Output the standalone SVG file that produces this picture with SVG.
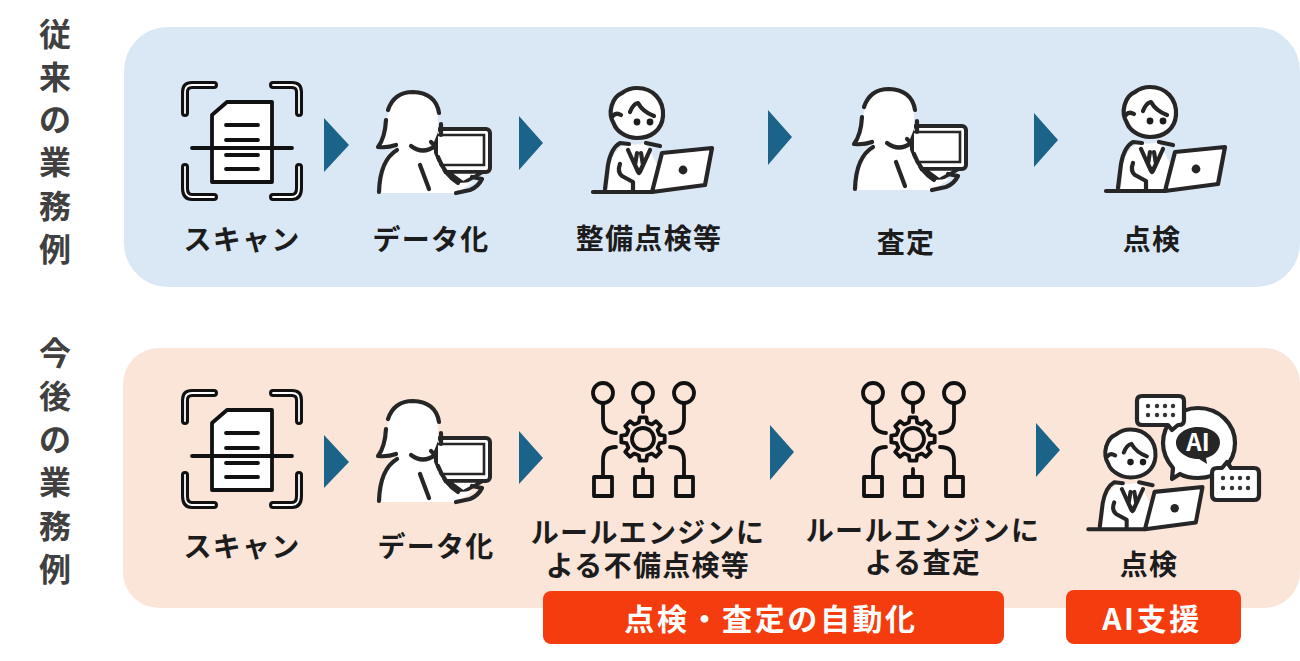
<svg xmlns="http://www.w3.org/2000/svg" width="1300" height="661" viewBox="0 0 1300 661">
<style>
text{font-family:"Noto Sans CJK JP","Noto Sans",sans-serif;font-weight:700;text-anchor:middle}
.lb{font-size:28px;letter-spacing:1.3px;fill:#1c1c1c}
.side{font-size:32px;fill:#404040}
.tag{font-size:30px;letter-spacing:2.6px;fill:#fff}
.ln{fill:none;stroke:#262626;stroke-width:4.2;stroke-linecap:round;stroke-linejoin:round}
.wh{fill:#fff;stroke:#262626;stroke-width:4.2;stroke-linecap:round;stroke-linejoin:round}
.gr{fill:none;stroke:#111;stroke-width:3.8;stroke-linecap:round;stroke-linejoin:round}
.br{fill:none;stroke:#111;stroke-width:8;stroke-linecap:round;stroke-linejoin:round}
.bi{fill:none;stroke:#fff;stroke-width:1.8;stroke-linecap:round;stroke-linejoin:round}
.arr{fill:#1b6388}
.dt{fill:#333}
</style>
<defs>
<g id="scan">
<path class="br" d="M185,113V92Q185,85 192,85H214M273,85H292Q299,85 299,92V113M185,167V188Q185,197 192,197H214M273,197H292Q299,197 299,188V167"/>
<path class="bi" d="M185,113V92Q185,85 192,85H214M273,85H292Q299,85 299,92V113M185,167V188Q185,197 192,197H214M273,197H292Q299,197 299,188V167"/>
<path d="M212,115L227,102H272V182H212Z" fill="#fff" stroke="#111" stroke-width="3.8" stroke-linejoin="round"/>
<path d="M226,125H258M226,140H258M192,148H292M226,155H258M226,169H258" fill="none" stroke="#111" stroke-width="3.8" stroke-linecap="round"/>
</g>
<g id="woman">
<rect x="436" y="129" width="54" height="43" rx="4" fill="#fff" stroke="#262626" stroke-width="4"/>
<path d="M437,135H484V165H437" fill="none" stroke="#262626" stroke-width="2.6"/>
<path d="M448,172L463,183L483,172Z" fill="#fff" stroke="#262626" stroke-width="3.6" stroke-linejoin="round"/>
<path d="M378,193L383,163Q387,152 397,147L378,147Q384,140 387,120Q391,93 413,92Q437,93 438,120V132L432,147Q436,160 445,175L458,183L474,182L456,193Z" fill="#fff"/>
<path class="ln" d="M388,110Q394,92 413,92Q436,93 439,113M386,120Q385,138 378,147Q388,148 396,145M379,192Q380,160 397,150M411,146Q423,155 435,146L431,142M441,124V135M420,165L429,189M438,157Q445,175 458,183M456,193L470,190Q478,187 482,179L472,177"/>
</g>
<g id="man">
<path d="M593,192H660V170L646,143Q637,146 627,144Q614,148 610,165L608,190Z" fill="#fff"/>
<path class="wh" d="M637,88C653,88 664,100 663,116C662,130 651,138 637,138C625,138 616,130 614,124C607,113 612,97 622,93C626,90 631,88 637,88Z"/>
<path class="ln" d="M593,192H652M605,189L608,165Q611,148 620,143L629,144M646,143L660,146M628,150L638,172M650,150L640,172M637,153L635,165L639,173L643,165L641,153M620,164Q617,172 622,176L633,182V190M613,116Q616,112 621,115M630,112Q633,104 638,103Q643,112 654,116"/>
<circle cx="637" cy="122" r="3.4" fill="#1c1c1c"/><circle cx="650" cy="122" r="3.4" fill="#1c1c1c"/>
<path class="wh" d="M662,153L712,148L705,185L652,192Z"/>
<circle cx="683" cy="170" r="4.4" fill="#262626"/>
</g>
<g id="rule">
<circle cx="603" cy="393" r="10" class="gr"/><circle cx="643" cy="393" r="10" class="gr"/><circle cx="684" cy="393" r="10" class="gr"/>
<rect x="594" y="477" width="18" height="19" class="gr"/><rect x="635" y="477" width="17" height="19" class="gr"/><rect x="676" y="477" width="17" height="19" class="gr"/>
<path class="gr" d="M603,404V420Q603,432 616,433M643,404V412M684,404V420Q684,432 670,433M616,447Q603,447 603,460V477M643,469V477M670,447Q684,447 684,460V477"/>
<path class="gr" transform="translate(643,439)" d="M16.5,-4.1L21.7,-3.4V3.4L16.5,4.1L14.6,8.8L17.8,12.9L12.9,17.8L8.8,14.6L4.1,16.5L3.4,21.7H-3.4L-4.1,16.5L-8.8,14.6L-12.9,17.8L-17.8,12.9L-14.6,8.8L-16.5,4.1L-21.7,3.4V-3.4L-16.5,-4.1L-14.6,-8.8L-17.8,-12.9L-12.9,-17.8L-8.8,-14.6L-4.1,-16.5L-3.4,-21.7H3.4L4.1,-16.5L8.8,-14.6L12.9,-17.8L17.8,-12.9L14.6,-8.8Z"/>
<circle cx="643" cy="439" r="11" class="gr"/>
</g>
</defs>

<rect id="panel-before" x="124" y="27" width="1176" height="260" rx="44" fill="#dae8f6"/>
<rect id="panel-after" x="123" y="348" width="1177" height="260" rx="36" fill="#fbe5d9"/>

<text id="label-before" class="side" x="55 55 55 55 55 55" y="46 89 131 174 218 261">従来の業務例</text>
<text id="label-after" class="side" x="55 55 55 55 55 55" y="365 408 451 494 538 581">今後の業務例</text>

<g id="connectors">
<polygon class="arr" points="324,118 349,145 324,172"/>
<polygon class="arr" points="519,116 543,143 519,170"/>
<polygon class="arr" points="768,110 792,137 768,165"/>
<polygon class="arr" points="1034,113 1058,140 1034,167"/>
<polygon class="arr" points="324,435 349,462 324,488"/>
<polygon class="arr" points="519,431 543,458 519,484"/>
<polygon class="arr" points="770,425 794,452 770,480"/>
<polygon class="arr" points="1036,423 1060,450 1036,477"/>
</g>

<g id="n1"><use href="#scan"/><text class="lb" x="242" y="250">スキャン</text></g>
<g id="n2"><use href="#woman"/><text class="lb" x="431" y="250">データ化</text></g>
<g id="n3"><use href="#man"/><text class="lb" x="649" y="249">整備点検等</text></g>
<g id="n4"><use href="#woman" x="476" y="-3"/><text class="lb" x="906" y="253">査定</text></g>
<g id="n5"><use href="#man" x="513" y="-1"/><text class="lb" x="1152" y="250">点検</text></g>

<g id="n6"><use href="#scan" y="308"/><text class="lb" x="242" y="557">スキャン</text></g>
<g id="n7"><use href="#woman" y="309"/><text class="lb" x="436" y="557">データ化</text></g>
<g id="n8"><use href="#rule"/><text class="lb" x="648" y="543">ルールエンジンに</text><text class="lb" x="648" y="576">よる不備点検等</text></g>
<g id="n9"><use href="#rule" x="270"/><text class="lb" x="923" y="541">ルールエンジンに</text><text class="lb" x="923" y="573">よる査定</text></g>
<g id="n10">
<use href="#man" transform="translate(519,345) scale(.96)"/>
<path class="wh" d="M1198,408C1219,408 1235,424 1235,443C1235,463 1219,478 1198,478C1191,478 1185,477 1180,474L1172,479L1173,468C1167,461 1163,452 1163,443C1163,424 1178,408 1198,408Z"/>
<path d="M1198,427C1211,427 1220,434 1220,442C1220,450 1214,456 1206,458L1207,464L1199,459C1186,459 1176,451 1176,443C1176,434 1186,427 1198,427Z" fill="#262626"/>
<text x="1198" y="451" font-size="24" fill="#fff">AI</text>
<path class="wh" d="M1142,396H1179Q1184,396 1184,401V420Q1184,425 1179,425H1178L1172,430L1168,425H1142Q1137,425 1137,420V401Q1137,396 1142,396Z"/>
<path class="wh" d="M1217,468H1222L1227,462L1231,468H1254Q1259,468 1259,473V495Q1259,500 1254,500H1217Q1212,500 1212,495V473Q1212,468 1217,468Z"/>
<g class="dt"><circle cx="1148" cy="406" r="2.2"/><circle cx="1157" cy="406" r="2.2"/><circle cx="1165" cy="406" r="2.2"/><circle cx="1173" cy="406" r="2.2"/><circle cx="1148" cy="415" r="2.2"/><circle cx="1157" cy="415" r="2.2"/><circle cx="1165" cy="415" r="2.2"/><circle cx="1173" cy="415" r="2.2"/><circle cx="1223" cy="478" r="2.2"/><circle cx="1232" cy="478" r="2.2"/><circle cx="1240" cy="478" r="2.2"/><circle cx="1248" cy="478" r="2.2"/><circle cx="1223" cy="488" r="2.2"/><circle cx="1232" cy="488" r="2.2"/><circle cx="1240" cy="488" r="2.2"/><circle cx="1248" cy="488" r="2.2"/></g>
<text class="lb" x="1149" y="575">点検</text>
</g>

<g id="tag-auto"><rect x="543" y="591" width="461" height="53" rx="8" fill="#f53c0e"/><text class="tag" x="771" y="630">点検・査定の自動化</text></g>
<g id="tag-ai"><rect x="1066" y="590" width="175" height="54" rx="8" fill="#f53c0e"/><text class="tag" x="1152" y="630">AI支援</text></g>
</svg>
